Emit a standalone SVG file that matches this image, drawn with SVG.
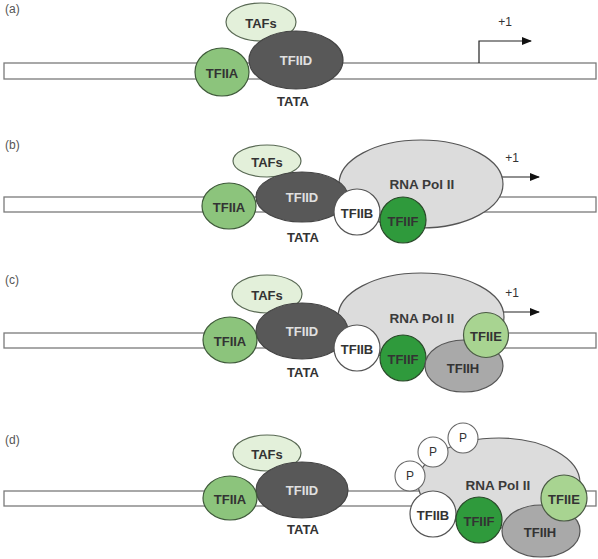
<svg xmlns="http://www.w3.org/2000/svg" width="598" height="559" viewBox="0 0 598 559">
<defs>
<marker id="ah" markerUnits="userSpaceOnUse" markerWidth="10" markerHeight="8" refX="9" refY="4" orient="auto">
<path d="M0,0 L10,4 L0,8 Z" fill="#111"/>
</marker>
</defs>
<style>
text{font-family:"Liberation Sans",Arial,sans-serif;text-anchor:middle;dominant-baseline:central}
.lbl{font-size:12px;fill:#555;text-anchor:start}
.pl{font-size:12px;fill:#333}
.n{font-size:13px;font-weight:bold;fill:#333}
.rp{font-size:13.5px;font-weight:bold;fill:#3a3a3a}
.w{fill:#e0e0e0}
.bar{fill:#fff;stroke:#7a7a7a;stroke-width:1.3}
.taf{fill:#e3f0da;stroke:#5a6a55;stroke-width:1.2}
.tfiid{fill:#585858;stroke:#444;stroke-width:1.2}
.tfiia{fill:#8cc47c;stroke:#3f5a3a;stroke-width:1.2}
.pol{fill:#dcdcdc;stroke:#555;stroke-width:1.2}
.tfiib{fill:#fff;stroke:#555;stroke-width:1.2}
.tfiif{fill:#2f9a3c;stroke:#2a4a2a;stroke-width:1.2}
.tfiih{fill:#a9a9a9;stroke:#555;stroke-width:1.2}
.tfiie{fill:#a8d491;stroke:#4a5a44;stroke-width:1.2}
.p{fill:#fff;stroke:#666;stroke-width:1.1}
.arr{fill:none;stroke:#222;stroke-width:1.2;marker-end:url(#ah)}
</style>
<rect width="598" height="559" fill="#fff"/>

<!-- Panel a -->
<text class="lbl" x="5" y="9">(a)</text>
<rect class="bar" x="4" y="63" width="592" height="16"/>
<g id="connectors">
<path class="arr" d="M479,63 V41 H531"/>
<path class="arr" d="M480,197 V177 H539"/>
<path class="arr" d="M480,333 V312 H539"/>
</g>
<text class="pl" x="505" y="22">+1</text>
<g id="a-tafs"><ellipse class="taf" cx="261" cy="22" rx="35" ry="19"/><text class="n" x="261" y="23">TAFs</text></g>
<g id="a-tfiid"><ellipse class="tfiid" cx="296" cy="60" rx="47" ry="29"/><text class="n w" x="296" y="60">TFIID</text></g>
<g id="a-tfiia"><ellipse class="tfiia" cx="222" cy="72" rx="27" ry="24"/><text class="n" x="222" y="73">TFIIA</text></g>
<text class="n" x="293" y="101">TATA</text>

<!-- Panel b -->
<text class="lbl" x="5" y="145">(b)</text>
<rect class="bar" x="4" y="197" width="592" height="15"/>
<g id="b-pol"><ellipse class="pol" cx="421" cy="184" rx="82" ry="44"/><text class="rp" x="422" y="184">RNA Pol II</text></g>
<text class="pl" x="512" y="158">+1</text>
<g id="b-tafs"><ellipse class="taf" cx="267" cy="161" rx="34" ry="16"/><text class="n" x="267" y="162">TAFs</text></g>
<g id="b-tfiid"><ellipse class="tfiid" cx="302" cy="197" rx="46" ry="25"/><text class="n w" x="302" y="197">TFIID</text></g>
<g id="b-tfiia"><ellipse class="tfiia" cx="229" cy="206" rx="27" ry="23"/><text class="n" x="229" y="207">TFIIA</text></g>
<g id="b-tfiib"><circle class="tfiib" cx="357" cy="212" r="23"/><text class="n" x="357" y="213">TFIIB</text></g>
<g id="b-tfiif"><circle class="tfiif" cx="403" cy="220" r="23"/><text class="n" x="403" y="221">TFIIF</text></g>
<text class="n" x="303" y="237">TATA</text>

<!-- Panel c -->
<text class="lbl" x="5" y="280">(c)</text>
<rect class="bar" x="4" y="333" width="592" height="15"/>
<g id="c-pol"><ellipse class="pol" cx="421" cy="317" rx="83" ry="44"/><text class="rp" x="422" y="318">RNA Pol II</text></g>
<text class="pl" x="512" y="293">+1</text>
<g id="c-tafs"><ellipse class="taf" cx="267" cy="294" rx="35" ry="19"/><text class="n" x="267" y="295">TAFs</text></g>
<g id="c-tfiid"><ellipse class="tfiid" cx="302" cy="331" rx="46" ry="28"/><text class="n w" x="302" y="331">TFIID</text></g>
<g id="c-tfiia"><ellipse class="tfiia" cx="230" cy="340" rx="27" ry="23"/><text class="n" x="230" y="341">TFIIA</text></g>
<g id="c-tfiib"><circle class="tfiib" cx="357" cy="348" r="23"/><text class="n" x="357" y="349">TFIIB</text></g>
<g id="c-tfiif"><circle class="tfiif" cx="403" cy="358" r="23"/><text class="n" x="403" y="359">TFIIF</text></g>
<g id="c-tfiih"><ellipse class="tfiih" cx="464" cy="366" rx="39" ry="26"/><text class="n" x="463" y="368">TFIIH</text></g>
<g id="c-tfiie"><circle class="tfiie" cx="486" cy="335" r="22.5"/><text class="n" x="486" y="336">TFIIE</text></g>
<text class="n" x="303" y="372">TATA</text>

<!-- Panel d -->
<text class="lbl" x="5" y="440">(d)</text>
<rect class="bar" x="4" y="491" width="592" height="15"/>
<g id="d-pol"><ellipse class="pol" cx="499" cy="483" rx="81" ry="45"/><text class="rp" x="498" y="485">RNA Pol II</text></g>
<g id="d-p1"><circle class="p" cx="410" cy="476" r="15"/><text class="pl" x="410" y="476">P</text></g>
<g id="d-p2"><circle class="p" cx="433" cy="452" r="15"/><text class="pl" x="433" y="452">P</text></g>
<g id="d-p3"><circle class="p" cx="463" cy="438" r="15"/><text class="pl" x="463" y="438">P</text></g>
<g id="d-tafs"><ellipse class="taf" cx="267" cy="453" rx="34" ry="18"/><text class="n" x="267" y="454">TAFs</text></g>
<g id="d-tfiid"><ellipse class="tfiid" cx="302" cy="490" rx="46" ry="28"/><text class="n w" x="302" y="490">TFIID</text></g>
<g id="d-tfiia"><ellipse class="tfiia" cx="230" cy="498" rx="27" ry="22"/><text class="n" x="230" y="499">TFIIA</text></g>
<g id="d-tfiib"><circle class="tfiib" cx="433" cy="514" r="23"/><text class="n" x="433" y="515">TFIIB</text></g>
<g id="d-tfiif"><circle class="tfiif" cx="479" cy="520" r="23"/><text class="n" x="479" y="521">TFIIF</text></g>
<g id="d-tfiih"><ellipse class="tfiih" cx="541" cy="531" rx="39" ry="26"/><text class="n" x="540" y="532">TFIIH</text></g>
<g id="d-tfiie"><circle class="tfiie" cx="564" cy="498" r="23"/><text class="n" x="564" y="499">TFIIE</text></g>
<text class="n" x="303" y="529">TATA</text>
</svg>
